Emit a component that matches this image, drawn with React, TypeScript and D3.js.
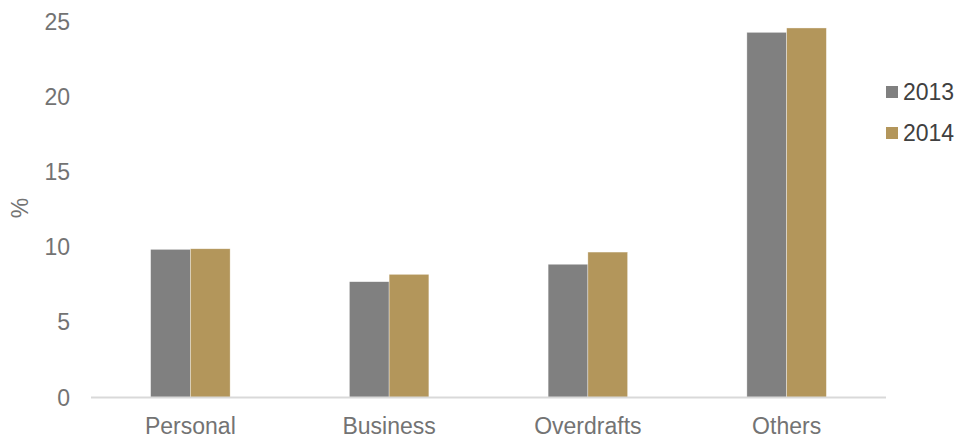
import React from "react";
import * as d3 from "d3";

const categories = ["Personal", "Business", "Overdrafts", "Others"];
const seriesNames = ["2013", "2014"];
const values2013 = [9.85, 7.7, 8.86, 24.28];
const values2014 = [9.89, 8.19, 9.67, 24.57];
const yTicks = [0, 5, 10, 15, 20, 25];
const colors = ["#808080", "#B3965B"];

export default function App() {
  const W = 964, H = 444;
  const left = 91, right = 886, top = 21.5, bottom = 397.5;
  const x = d3.scaleBand<string>().domain(categories).range([left, right]).padding(0);
  const y = d3.scaleLinear().domain([0, 25]).range([bottom, top]);
  const bw = x.bandwidth() * 0.2;
  const series = [values2013, values2014];
  const font = "'Liberation Sans', Arial, sans-serif";
  const textColor = "#737373";
  return (
    <svg width={W} height={H} style={{ position: "absolute", left: 0, top: 0, background: "#fff" }} fontFamily={font}>
      {series.map((vals, si) =>
        categories.map((c, i) => {
          const cx = (x(c) ?? 0) + x.bandwidth() / 2;
          const x0 = cx - bw + si * bw;
          return (
            <rect key={c + si} x={x0} y={y(vals[i])} width={bw} height={y(0) - y(vals[i])}
              fill={colors[si]} stroke="#ffffff" strokeWidth={0.6} strokeOpacity={0.6} />
          );
        })
      )}
      <line x1={left} x2={right} y1={y(0)} y2={y(0)} stroke="#d9d9d9" strokeWidth={2} />
      {yTicks.map(t => (
        <text key={t} x={70} y={y(t)} dy="0.35em" textAnchor="end" fontSize={23} fill={textColor}>{t}</text>
      ))}
      {categories.map(c => (
        <text key={c} x={(x(c) ?? 0) + x.bandwidth() / 2} y={433.5} textAnchor="middle" fontSize={23} fill={textColor}>{c}</text>
      ))}
      <text transform={`translate(28,${208}) rotate(-90)`} textAnchor="middle" fontSize={23} fill={textColor}>%</text>
      {seriesNames.map((s, i) => (
        <g key={s} transform={`translate(886,${92 + i * 41})`}>
          <rect x={0} y={-6} width={12} height={12} fill={colors[i]} />
          <text x={17} y={0} dy="0.35em" fontSize={23} fill="#404040">{s}</text>
        </g>
      ))}
    </svg>
  );
}
